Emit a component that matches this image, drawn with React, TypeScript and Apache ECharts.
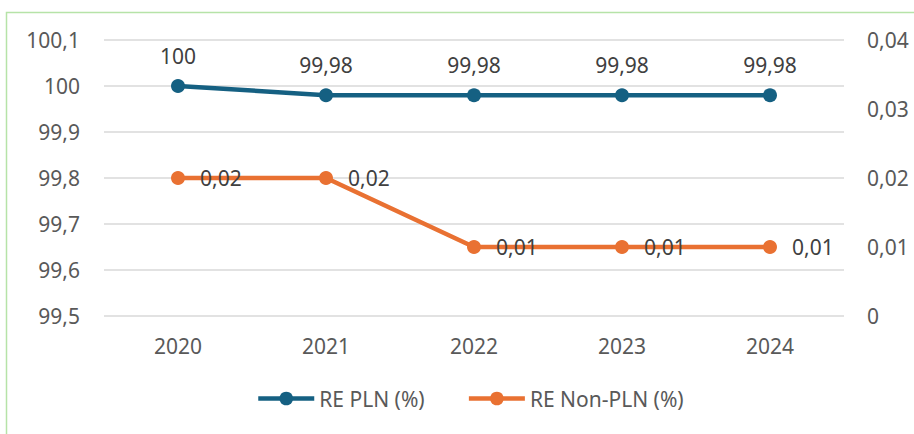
import React, { useEffect, useRef } from "react";
import * as echarts from "echarts";

const years = ["2020", "2021", "2022", "2023", "2024"];
const rePln = [100, 99.98, 99.98, 99.98, 99.98];
const reNonPln = [0.02, 0.02, 0.01, 0.01, 0.01];
const leftAxis = { min: 99.5, max: 100.1, interval: 0.1 };
const rightAxis = { min: 0, max: 0.04, interval: 0.01 };

const fmt = (v: number) => String(parseFloat(Number(v).toFixed(2))).replace(".", ",");
const FONT = "Noto Sans";
const FS = 21;

export default function App() {
  const ref = useRef<HTMLDivElement>(null);
  useEffect(() => {
    document.body.style.margin = "0";
    const chart = echarts.init(ref.current!, null, { renderer: "svg" });
    chart.setOption({
      animation: false,
      backgroundColor: "#ffffff",
      textStyle: { fontFamily: FONT },
      graphic: [
        {
          type: "rect",
          shape: { x: 6.5, y: 12.5, width: 1000, height: 1000 },
          style: { fill: "none", stroke: "#B6E3A8", lineWidth: 1.5 },
          z: 0,
        },
      ],
      grid: { left: 104, right: 70, top: 40, bottom: 118 },
      legend: {
        bottom: 25,
        left: 256,
        padding: 0,
        itemWidth: 56,
        itemHeight: 17,
        itemGap: 42,
        lineStyle: { width: 4.5 },
        textStyle: { fontSize: FS, color: "#595959", fontFamily: FONT },
        data: ["RE PLN (%)", "RE Non-PLN (%)"],
      },
      xAxis: {
        type: "category",
        data: years,
        boundaryGap: true,
        axisLine: { show: false },
        axisTick: { show: false },
        axisLabel: { fontSize: FS, color: "#595959", margin: 19, fontFamily: FONT },
      },
      yAxis: [
        {
          type: "value",
          min: leftAxis.min,
          max: leftAxis.max,
          interval: leftAxis.interval,
          axisLine: { show: false },
          axisTick: { show: false },
          splitLine: { lineStyle: { color: "#D9D9D9", width: 1.5 } },
          axisLabel: { fontSize: FS, color: "#595959", margin: 24, formatter: fmt, fontFamily: FONT },
        },
        {
          type: "value",
          min: rightAxis.min,
          max: rightAxis.max,
          interval: rightAxis.interval,
          axisLine: { show: false },
          axisTick: { show: false },
          splitLine: { show: false },
          axisLabel: { fontSize: FS, color: "#595959", margin: 23, formatter: fmt, fontFamily: FONT },
        },
      ],
      series: [
        {
          name: "RE PLN (%)",
          type: "line",
          yAxisIndex: 0,
          data: rePln,
          symbol: "circle",
          symbolSize: 14,
          itemStyle: { color: "#156082" },
          lineStyle: { color: "#156082", width: 4.5 },
          label: {
            show: true,
            position: "top",
            distance: 13,
            fontSize: FS,
            color: "#404040",
            fontFamily: FONT,
            formatter: (p: any) => fmt(p.value),
          },
          z: 3,
        },
        {
          name: "RE Non-PLN (%)",
          type: "line",
          yAxisIndex: 1,
          data: reNonPln,
          symbol: "circle",
          symbolSize: 14,
          itemStyle: { color: "#E97132" },
          lineStyle: { color: "#E97132", width: 4.5 },
          label: {
            show: true,
            position: "right",
            distance: 15,
            fontSize: FS,
            color: "#404040",
            fontFamily: FONT,
            formatter: (p: any) => fmt(p.value),
          },
          z: 3,
        },
      ],
    });
    return () => chart.dispose();
  }, []);
  return <div ref={ref} style={{ width: 914, height: 434 }} />;
}
